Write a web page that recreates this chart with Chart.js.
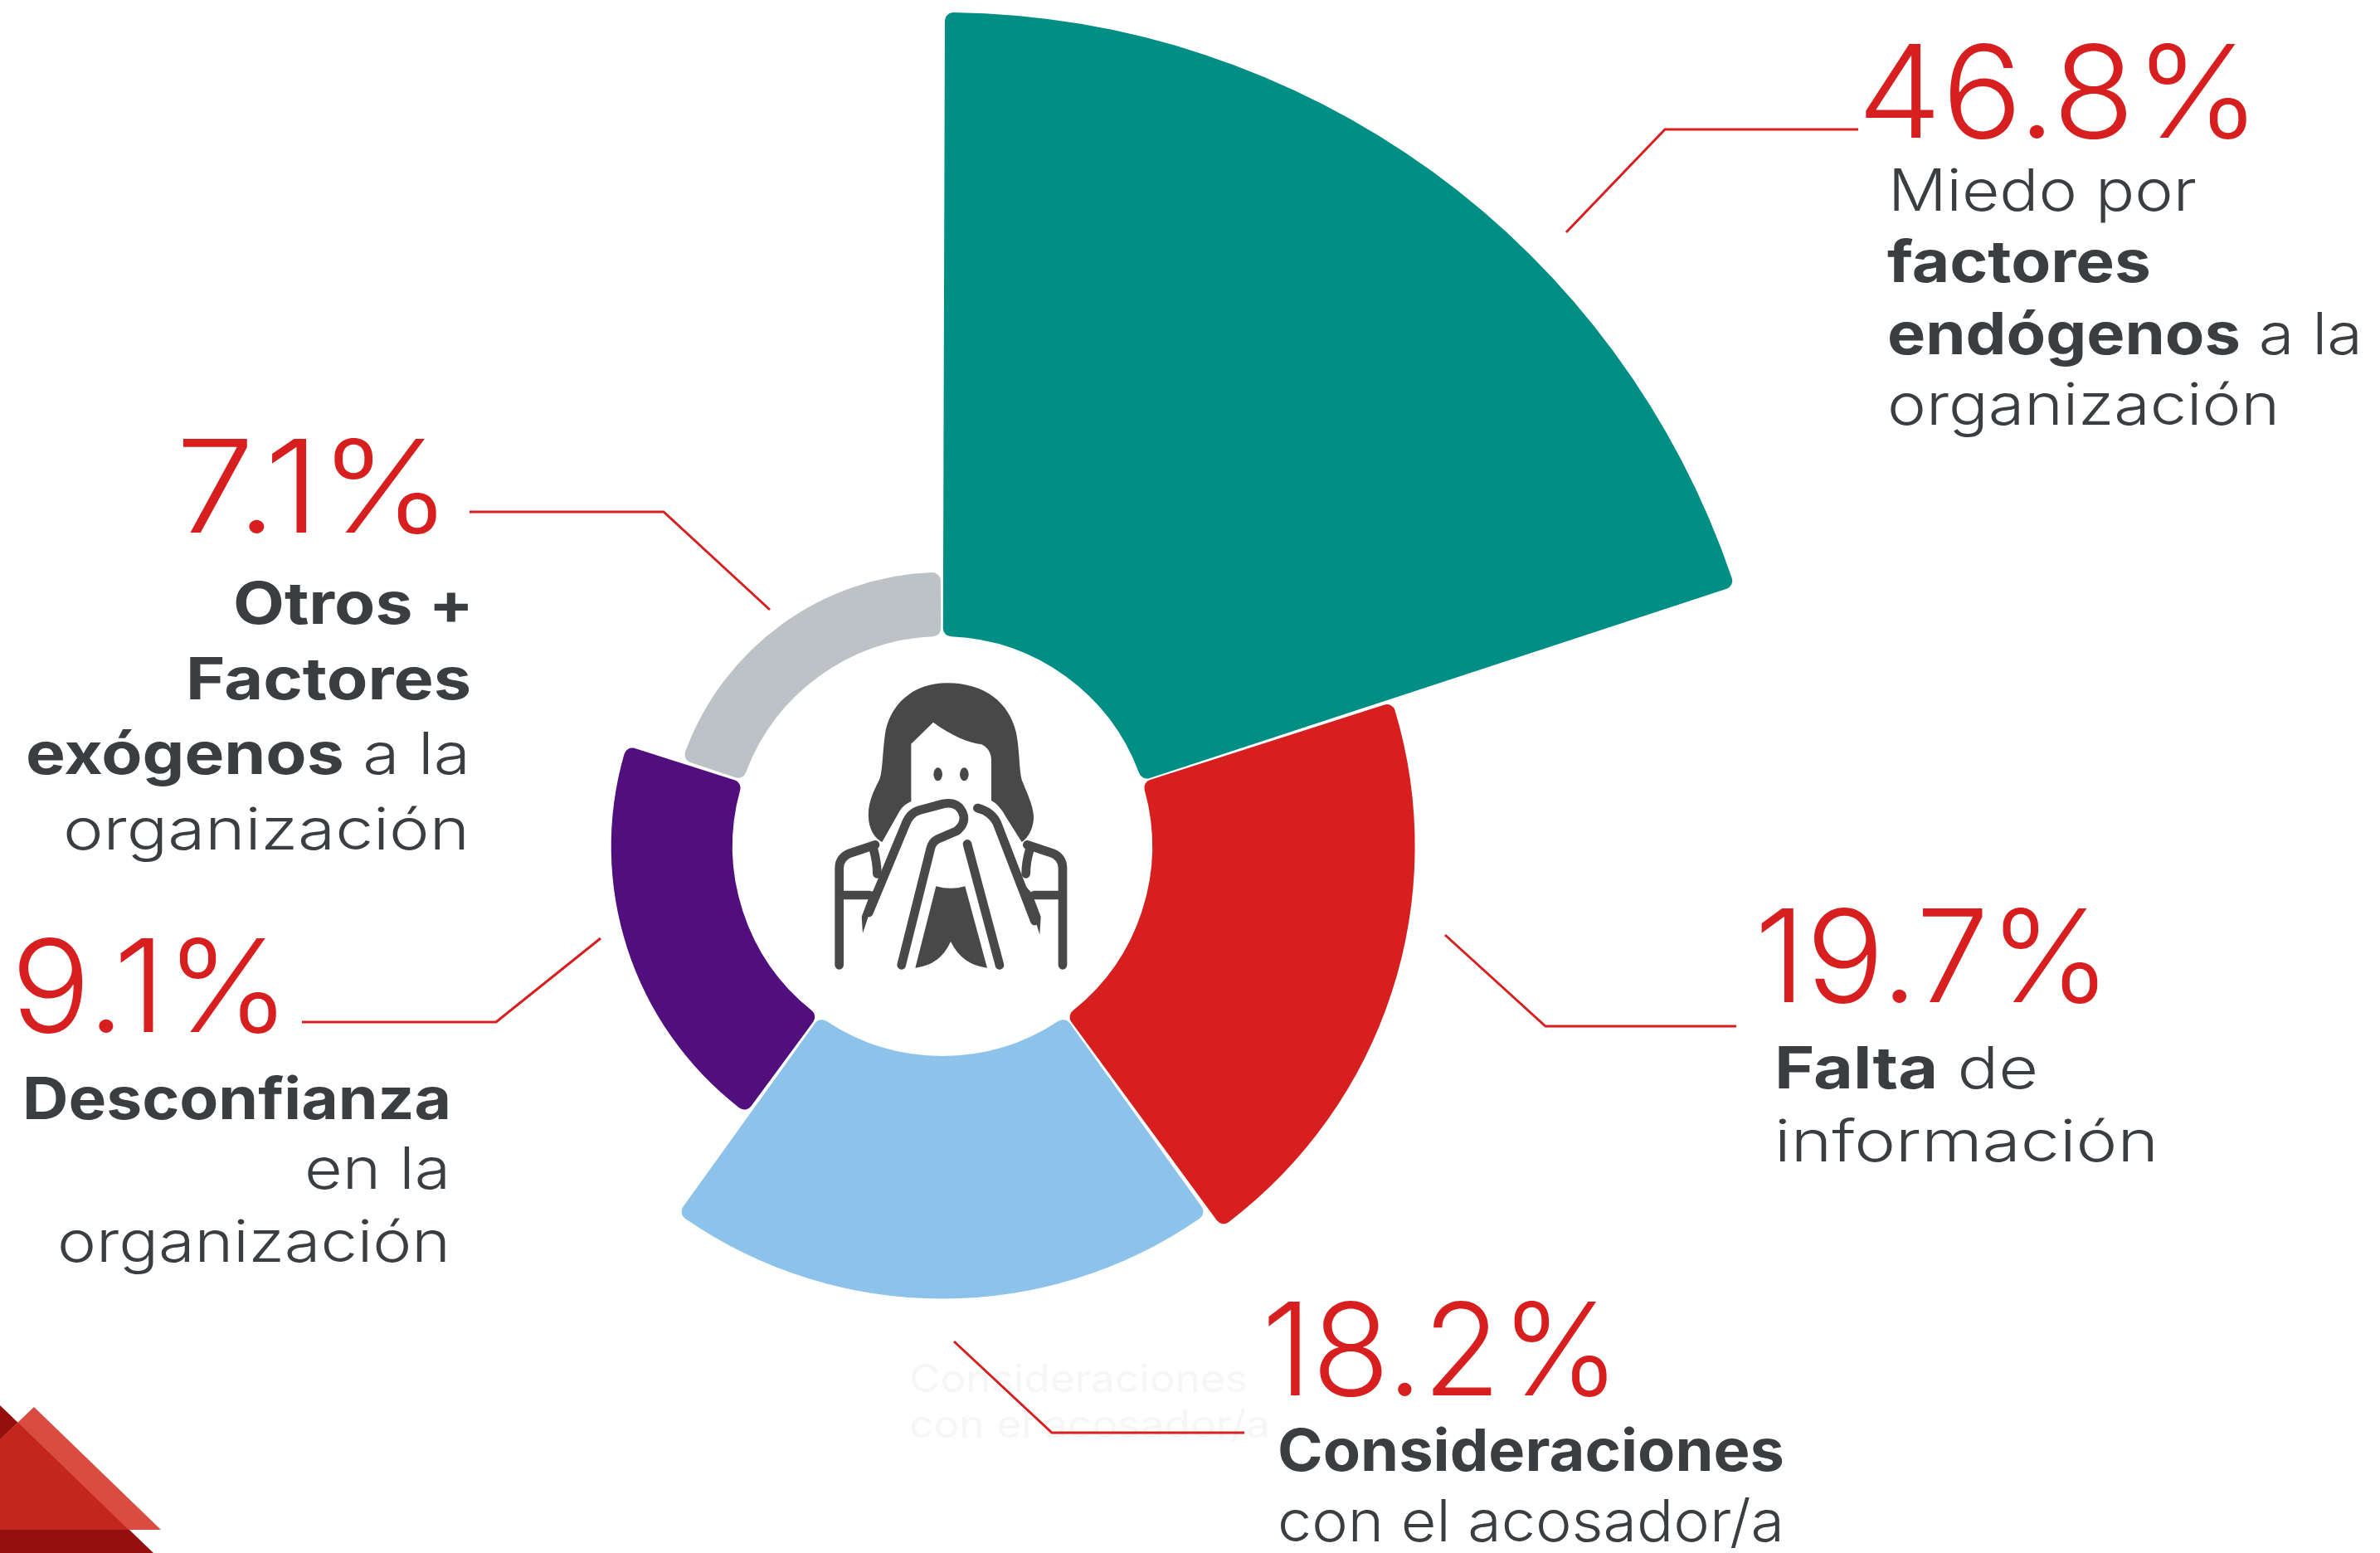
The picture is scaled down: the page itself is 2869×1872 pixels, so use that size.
<!DOCTYPE html>
<html lang="es">
<head>
<meta charset="utf-8">
<title>Razones para no denunciar</title>
<script src="https://cdn.jsdelivr.net/npm/chart.js@4"></script>
<style>
    html, body { margin: 0; padding: 0; background: #fff; }
    #page { position: relative; width: 2869px; height: 1872px; overflow: hidden; background: #fff; }
    #chart { position: absolute; left: 0; top: 0; z-index: 1; }
    #icon, #corner { position: absolute; z-index: 2; }
    .line { position: absolute; white-space: nowrap; line-height: 0; transform-origin: 0 0; font-family: Inter, "Open Sans", sans-serif; }
    .line i { display: inline-block; height: 1000px; width: 0; }
</style>
</head>
<body>
<div id="page">
    <canvas id="chart" width="2869" height="1872"></canvas>

    <svg id="corner" style="left:0;top:1660px" width="240" height="212" viewBox="0 1660 240 212">
        <polygon fill="#93100f" points="0,1694 185,1872 0,1872"/>
        <polygon fill="#d94c42" points="41,1696 194,1844 0,1844 0,1735"/>
        <polygon fill="#c3261c" points="22,1715 155,1844 0,1844 0,1735"/>
    </svg>

    <svg id="icon" style="left:960px;top:780px" width="350" height="420" viewBox="0 0 1050 1260">
        <path fill="#484848" d="M545,130 C420,130 335,210 320,320 C310,400 312,450 300,480 C275,530 255,570 262,630 C268,670 290,695 310,705 L375,590 C385,575 400,565 415,558 L415,350 L495,272 C560,320 620,345 670,352 C695,365 705,385 705,410 L705,555 C725,565 745,590 755,610 L815,705 C840,690 860,650 858,610 C855,570 835,530 815,480 C805,440 808,380 795,310 C770,200 680,130 545,130 Z"/>
        <ellipse fill="#484848" cx="512" cy="460" rx="16" ry="24"/>
        <ellipse fill="#484848" cx="607" cy="460" rx="16" ry="24"/>
        <path fill="#484848" d="M505,865 Q560,880 610,865 L690,1160 Q600,1150 558,1065 Q520,1150 430,1160 Z"/>
        <path fill="#484848" d="M240,1035 L236,975 L268,890 L298,860 Z M880,1040 L884,975 L852,890 L825,860 Z"/>
        <g fill="none" stroke="#484848" stroke-width="32" stroke-linecap="round" stroke-linejoin="round">
            <path d="M155,1150 L155,800 Q155,760 195,745 L285,715"/>
            <path d="M963,1150 L963,800 Q963,760 925,745 L835,715"/>
            <path d="M170,897 L265,897 M860,897 L950,897"/>
            <path d="M280,735 Q292,780 292,820 M843,735 Q830,780 830,820"/>
            <path d="M262,960 L395,640 Q410,600 445,590 L530,567 Q590,555 605,610 Q610,640 580,665 L510,695 Q490,705 485,730 L380,1150"/>
            <path d="M655,582 Q705,595 725,635 L862,990"/>
            <path d="M618,712 L735,1150"/>
        </g>
    </svg>
</div>

<script>
const categories = [
    'Miedo por factores endógenos a la organización',
    'Falta de información',
    'Consideraciones con el acosador/a',
    'Desconfianza en la organización',
    'Otros + Factores exógenos a la organización'
];
// the last slice is drawn shorter in the picture than its 7.1% label says
const sliceValues = [46.8, 19.7, 18.2, 9.1, 4.8];
const sliceColors = ['#008e85', '#d71f1f', '#8dc3eb', '#510f7e', '#bdc2c6'];
const percentLabels = ['46.8%', '19.7%', '18.2%', '9.1%', '7.1%'];

const centerHole = 250;

// [x, y] page pixels
const leaderLines = [
    [[1888, 280], [2007, 156], [2240, 156]],
    [[1742, 1127], [1863, 1237], [2093, 1237]],
    [[1150, 1617], [1268, 1727], [1500, 1727]],
    [[724, 1131], [598, 1232], [364, 1232]],
    [[928, 735], [800, 617], [566, 617]]
];

// x, baseline, width, size, colour, runs of [text, weight]
const RED = '#d71f1f', DARK = '#3a3e40';
const textLines = [
    [1096, 1678, 408, 46, '#f6f6f6', [['Consideraciones', 400]]],
    [1096, 1733, 435, 46, '#f6f6f6', [['con el acosador/a', 400]]],

    [2239, 166, 486, 155, RED, [[percentLabels[0], 300]]],
    [2276, 254, 372, 70, DARK, [['Miedo por', 300]]],
    [2275, 340, 318, 70, DARK, [['factores', 700]]],
    [2275, 427, 573, 70, DARK, [['endógenos', 700], [' a la', 300]]],
    [2275, 512, 473, 70, DARK, [['organización', 300]]],

    [2115, 1208, 430, 155, RED, [[percentLabels[1], 300]]],
    [2139, 1312, 318, 70, DARK, [['Falta', 700], [' de', 300]]],
    [2139, 1400, 463, 70, DARK, [['información', 300]]],

    [1521, 1682, 432, 155, RED, [[percentLabels[2], 300]]],
    [1540, 1773, 611, 70, DARK, [['Consideraciones', 700]]],
    [1540, 1858, 611, 70, DARK, [['con el acosador/a', 300]]],

    [13, 1244, 337, 155, RED, [[percentLabels[3], 300]]],
    [27, 1349, 517, 70, DARK, [['Desconfianza', 700]]],
    [367, 1433, 176, 70, DARK, [['en la', 300]]],
    [69, 1521, 474, 70, DARK, [['organización', 300]]],

    [212, 642, 332, 155, RED, [[percentLabels[4], 300]]],
    [281, 752, 290, 70, DARK, [['Otros +', 700]]],
    [224, 843, 344, 70, DARK, [['Factores', 700]]],
    [31, 933, 536, 70, DARK, [['exógenos', 700], [' a la', 300]]],
    [76, 1024, 490, 70, DARK, [['organización', 300]]]
];

// polar area has no cutout of its own, so open the hole after each update
const holePlugin = {
    id: 'hole',
    afterDatasetsUpdate(chart) {
        chart.getDatasetMeta(0).data.forEach(arc => {
            arc.innerRadius = centerHole;
        });
    }
};

const leaderPlugin = {
    id: 'leaders',
    afterDraw(chart) {
        const ctx = chart.ctx;
        ctx.save();
        ctx.strokeStyle = RED;
        ctx.lineWidth = 3;
        leaderLines.forEach(pts => {
            ctx.beginPath();
            pts.forEach((p, i) => i ? ctx.lineTo(p[0], p[1]) : ctx.moveTo(p[0], p[1]));
            ctx.stroke();
        });
        ctx.restore();
    }
};

new Chart(document.getElementById('chart'), {
    type: 'polarArea',
    data: {
        labels: categories,
        datasets: [{
            data: sliceValues,
            backgroundColor: sliceColors,
            borderWidth: 0,
            borderRadius: 10,
            spacing: 6,
            clip: false
        }]
    },
    options: {
        responsive: false,
        animation: false,
        layout: { padding: { left: 0, right: 597, top: 168, bottom: 0 } },
        scales: {
            r: {
                display: false,
                min: -15.56,
                max: 37.46,
                ticks: { display: false }
            }
        },
        plugins: { legend: { display: false }, tooltip: { enabled: false } }
    },
    plugins: [holePlugin, leaderPlugin]
});

function addLine(line) {
    const [x, baseline, width, size, color, runs] = line;
    const el = document.createElement('div');
    el.className = 'line';
    el.style.left = x + 'px';
    el.style.top = (baseline - 1000) + 'px';
    el.style.fontSize = size + 'px';
    el.style.color = color;
    el.appendChild(document.createElement('i'));
    runs.forEach(run => {
        const span = document.createElement('span');
        span.textContent = run[0];
        span.style.fontWeight = run[1];
        el.appendChild(span);
    });
    document.getElementById('page').appendChild(el);
    // stretch to the width the line has in the picture, Montserrat runs wider than Inter
    el.style.transform = 'scaleX(' + (width / el.getBoundingClientRect().width) + ')';
}

textLines.forEach(addLine);
</script>
</body>
</html>
